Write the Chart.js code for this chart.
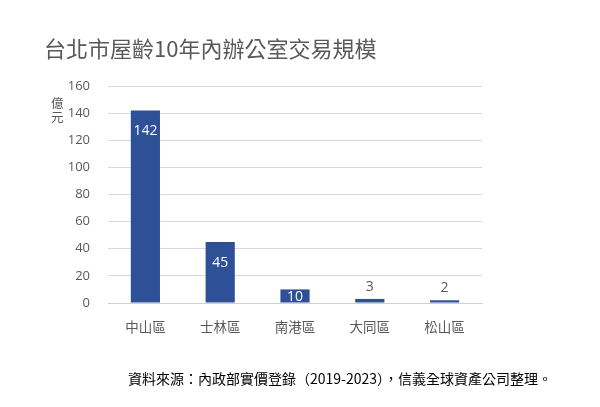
<!DOCTYPE html>
<html>
<head>
<meta charset="utf-8">
<script src="https://cdn.jsdelivr.net/npm/chart.js@4"></script>
<style>
  html, body { margin: 0; padding: 0; background: #fff; }
  #wrap { position: relative; width: 600px; height: 407px; }
  #title { position: absolute; left: 44px; top: 31px; font: 22px "Noto Sans CJK TC", sans-serif; color: #595959; }
  #unit { position: absolute; left: 51px; top: 96px; width: 14px; font: 12.5px/14px "Noto Sans CJK TC", sans-serif; color: #595959; }
  #note { position: absolute; left: 128px; top: 368px; font: 14px "Noto Sans CJK TC", sans-serif; color: #000; }
</style>
</head>
<body>
<div id="wrap">
  <canvas id="chart" width="600" height="407"></canvas>
  <div id="title">台北市屋齡10年內辦公室交易規模</div>
  <div id="unit">億元</div>
  <div id="note">資料來源：內政部實價登錄（2019-2023），信義全球資產公司整理。</div>
</div>
<script>
// Data
const districts = ['中山區', '士林區', '南港區', '大同區', '松山區'];
const volumes = [142, 45, 10, 3, 2];

const barColor = '#2d5096';
const textGray = '#595959';

// Value labels: inside the bar when tall enough, above otherwise
const valueLabels = {
    id: 'valueLabels',
    afterDatasetsDraw(chart) {
        const ctx = chart.ctx;
        const meta = chart.getDatasetMeta(0);
        ctx.save();
        ctx.font = '14px "Open Sans", "Noto Sans", sans-serif';
        ctx.textAlign = 'center';
        ctx.textBaseline = 'middle';
        meta.data.forEach((bar, i) => {
            const v = volumes[i];
            if (v >= 8) {
                ctx.fillStyle = '#ffffff';
                ctx.fillText(String(v), bar.x, Math.min(bar.y + 21, (bar.y + bar.base) / 2 + 1));
            } else {
                ctx.fillStyle = textGray;
                ctx.fillText(String(v), bar.x, bar.y - 12);
            }
        });
        ctx.restore();
    }
};

new Chart(document.getElementById('chart'), {
    type: 'bar',
    data: {
        labels: districts,
        datasets: [{
            data: volumes,
            backgroundColor: barColor,
            categoryPercentage: 1,
            barPercentage: 0.39
        }]
    },
    options: {
        responsive: false,
        animation: false,
        layout: { padding: { left: 0, right: 118, top: 86, bottom: 0 } },
        plugins: { legend: { display: false }, tooltip: { enabled: false } },
        scales: {
            x: {
                grid: { display: false },
                border: { color: '#d0d0d0', width: 1 },
                ticks: { color: textGray, font: { family: '"Noto Sans CJK TC", sans-serif', size: 13.5 }, padding: 8 },
                afterFit(scale) { scale.height = 104; }
            },
            y: {
                min: 0,
                max: 160,
                ticks: { stepSize: 20, color: textGray, font: { family: '"Open Sans", "Noto Sans", sans-serif', size: 13 }, padding: 18 },
                grid: { color: '#d9d9d9', drawTicks: false },
                border: { display: false },
                afterFit(scale) { scale.width = 108; }
            }
        }
    },
    plugins: [valueLabels]
});
</script>
</body>
</html>
